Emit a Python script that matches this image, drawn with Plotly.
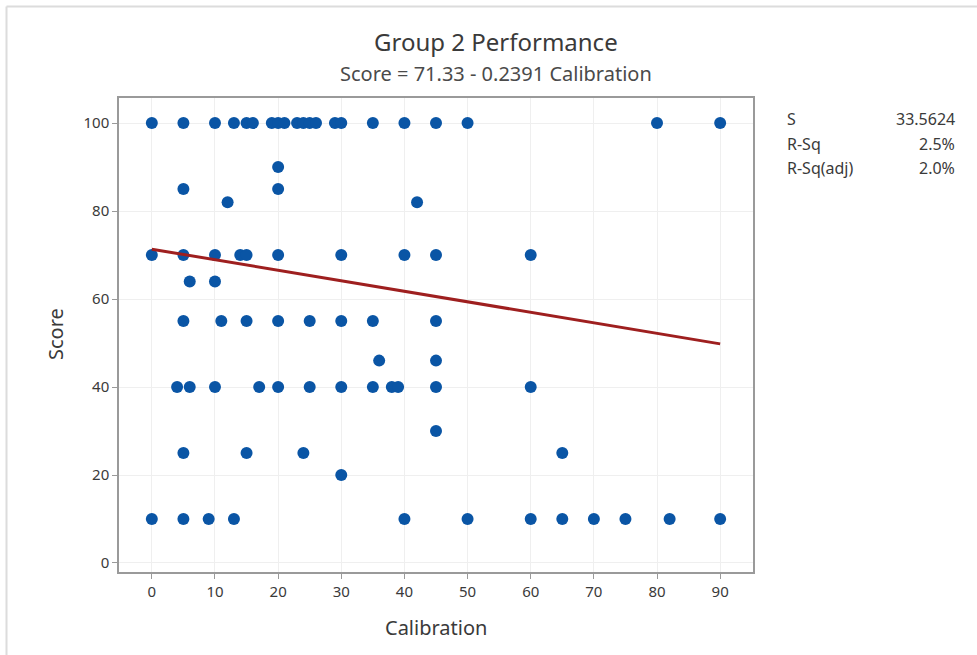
import plotly.graph_objects as go

# Data (Calibration, Score)
score_levels = [100, 90, 85, 82, 70, 64, 55, 46, 40, 30, 25, 20, 10]
calibration_by_score = [
    [0, 5, 10, 13, 15, 16, 19, 20, 21, 23, 24, 25, 26, 29, 30, 35, 40, 45, 50, 80, 90],
    [20],
    [5, 20],
    [12, 42],
    [0, 5, 10, 14, 15, 20, 30, 40, 45, 60],
    [6, 10],
    [5, 11, 15, 20, 25, 30, 35, 45],
    [36, 45],
    [4, 6, 10, 17, 20, 25, 30, 35, 38, 39, 45, 60],
    [45],
    [5, 15, 24, 65],
    [30],
    [0, 5, 9, 13, 40, 50, 60, 65, 70, 75, 82, 90],
]
intercept = 71.33
slope = -0.2391
stat_labels = ["S", "R-Sq", "R-Sq(adj)"]
stat_values = ["33.5624", "2.5%", "2.0%"]
x_ticks = [0, 10, 20, 30, 40, 50, 60, 70, 80, 90]
y_ticks = [0, 20, 40, 60, 80, 100]

xs, ys = [], []
for s, cals in zip(score_levels, calibration_by_score):
    for c in cals:
        xs.append(c)
        ys.append(s)

xmin, xmax = min(xs), max(xs)
line_x = [xmin, xmax]
line_y = [intercept + slope * v for v in line_x]

FONT = "Noto Sans"
TXT = "#3a3a3a"

fig = go.Figure()
fig.add_trace(go.Scatter(x=xs, y=ys, mode="markers",
                         marker=dict(size=12, color="#0a55a5", line=dict(width=0)),
                         showlegend=False, hoverinfo="x+y"))
fig.add_trace(go.Scatter(x=line_x, y=line_y, mode="lines",
                         line=dict(color="#9e1f1f", width=3),
                         showlegend=False, hoverinfo="skip"))

L, R, T, B = 119, 224, 98, 83
W, H = 977, 655
pw = W - L - R
ph = H - T - B

def px(x):
    return (x - L) / pw

def py(y):
    return (H - B - y) / ph

annotations = [
    dict(text="Group 2 Performance", x=px(496), y=py(41), xref="paper", yref="paper",
         showarrow=False, font=dict(size=24, color=TXT, family=FONT), xanchor="center", yanchor="middle"),
    dict(text="Score = 71.33 - 0.2391 Calibration", x=px(496), y=py(73), xref="paper", yref="paper",
         showarrow=False, font=dict(size=20, color="#4a4a4a", family=FONT), xanchor="center", yanchor="middle"),
    dict(text="Score", x=px(55), y=py(334), xref="paper", yref="paper", textangle=-90,
         showarrow=False, font=dict(size=20, color=TXT, family=FONT), xanchor="center", yanchor="middle"),
    dict(text="Calibration", x=px(436), y=py(627), xref="paper", yref="paper",
         showarrow=False, font=dict(size=20, color=TXT, family=FONT), xanchor="center", yanchor="middle"),
]
for i, (lab, val) in enumerate(zip(stat_labels, stat_values)):
    yy = py(119 + i * 24.5)
    annotations.append(dict(text=lab, x=px(785), y=yy, xref="paper", yref="paper", showarrow=False,
                            font=dict(size=16, color=TXT, family=FONT), xanchor="left", yanchor="middle"))
    annotations.append(dict(text=val, x=px(957), y=yy, xref="paper", yref="paper", showarrow=False,
                            font=dict(size=16, color=TXT, family=FONT), xanchor="right", yanchor="middle"))

shapes = [
    dict(type="line", xref="paper", yref="paper", x0=px(6.5), x1=px(977), y0=py(6.5), y1=py(6.5),
         line=dict(color="#dcdcdc", width=2)),
    dict(type="line", xref="paper", yref="paper", x0=px(6.5), x1=px(6.5), y0=py(6.5), y1=py(655),
         line=dict(color="#dcdcdc", width=2)),
]

fig.update_layout(
    width=W, height=H,
    margin=dict(l=L, r=R, t=T, b=B),
    paper_bgcolor="white", plot_bgcolor="white",
    font=dict(family=FONT, color=TXT, size=15),
    annotations=annotations, shapes=shapes,
    xaxis=dict(range=[-5.2, 95.2], tickvals=x_ticks, showgrid=True, gridcolor="#efefef", gridwidth=1,
               zeroline=False, showline=True, linecolor="#9a9a9a", linewidth=1.5, mirror=True,
               ticks="outside", ticklen=5, tickcolor="#9a9a9a", tickfont=dict(size=15, color=TXT)),
    yaxis=dict(range=[-2.05, 105.7], tickvals=y_ticks, showgrid=True, gridcolor="#efefef", gridwidth=1,
               zeroline=False, showline=True, linecolor="#9a9a9a", linewidth=1.5, mirror=True,
               ticks="outside", ticklen=5, tickcolor="#9a9a9a", tickfont=dict(size=15, color=TXT)),
)

fig.write_html("out.html")
